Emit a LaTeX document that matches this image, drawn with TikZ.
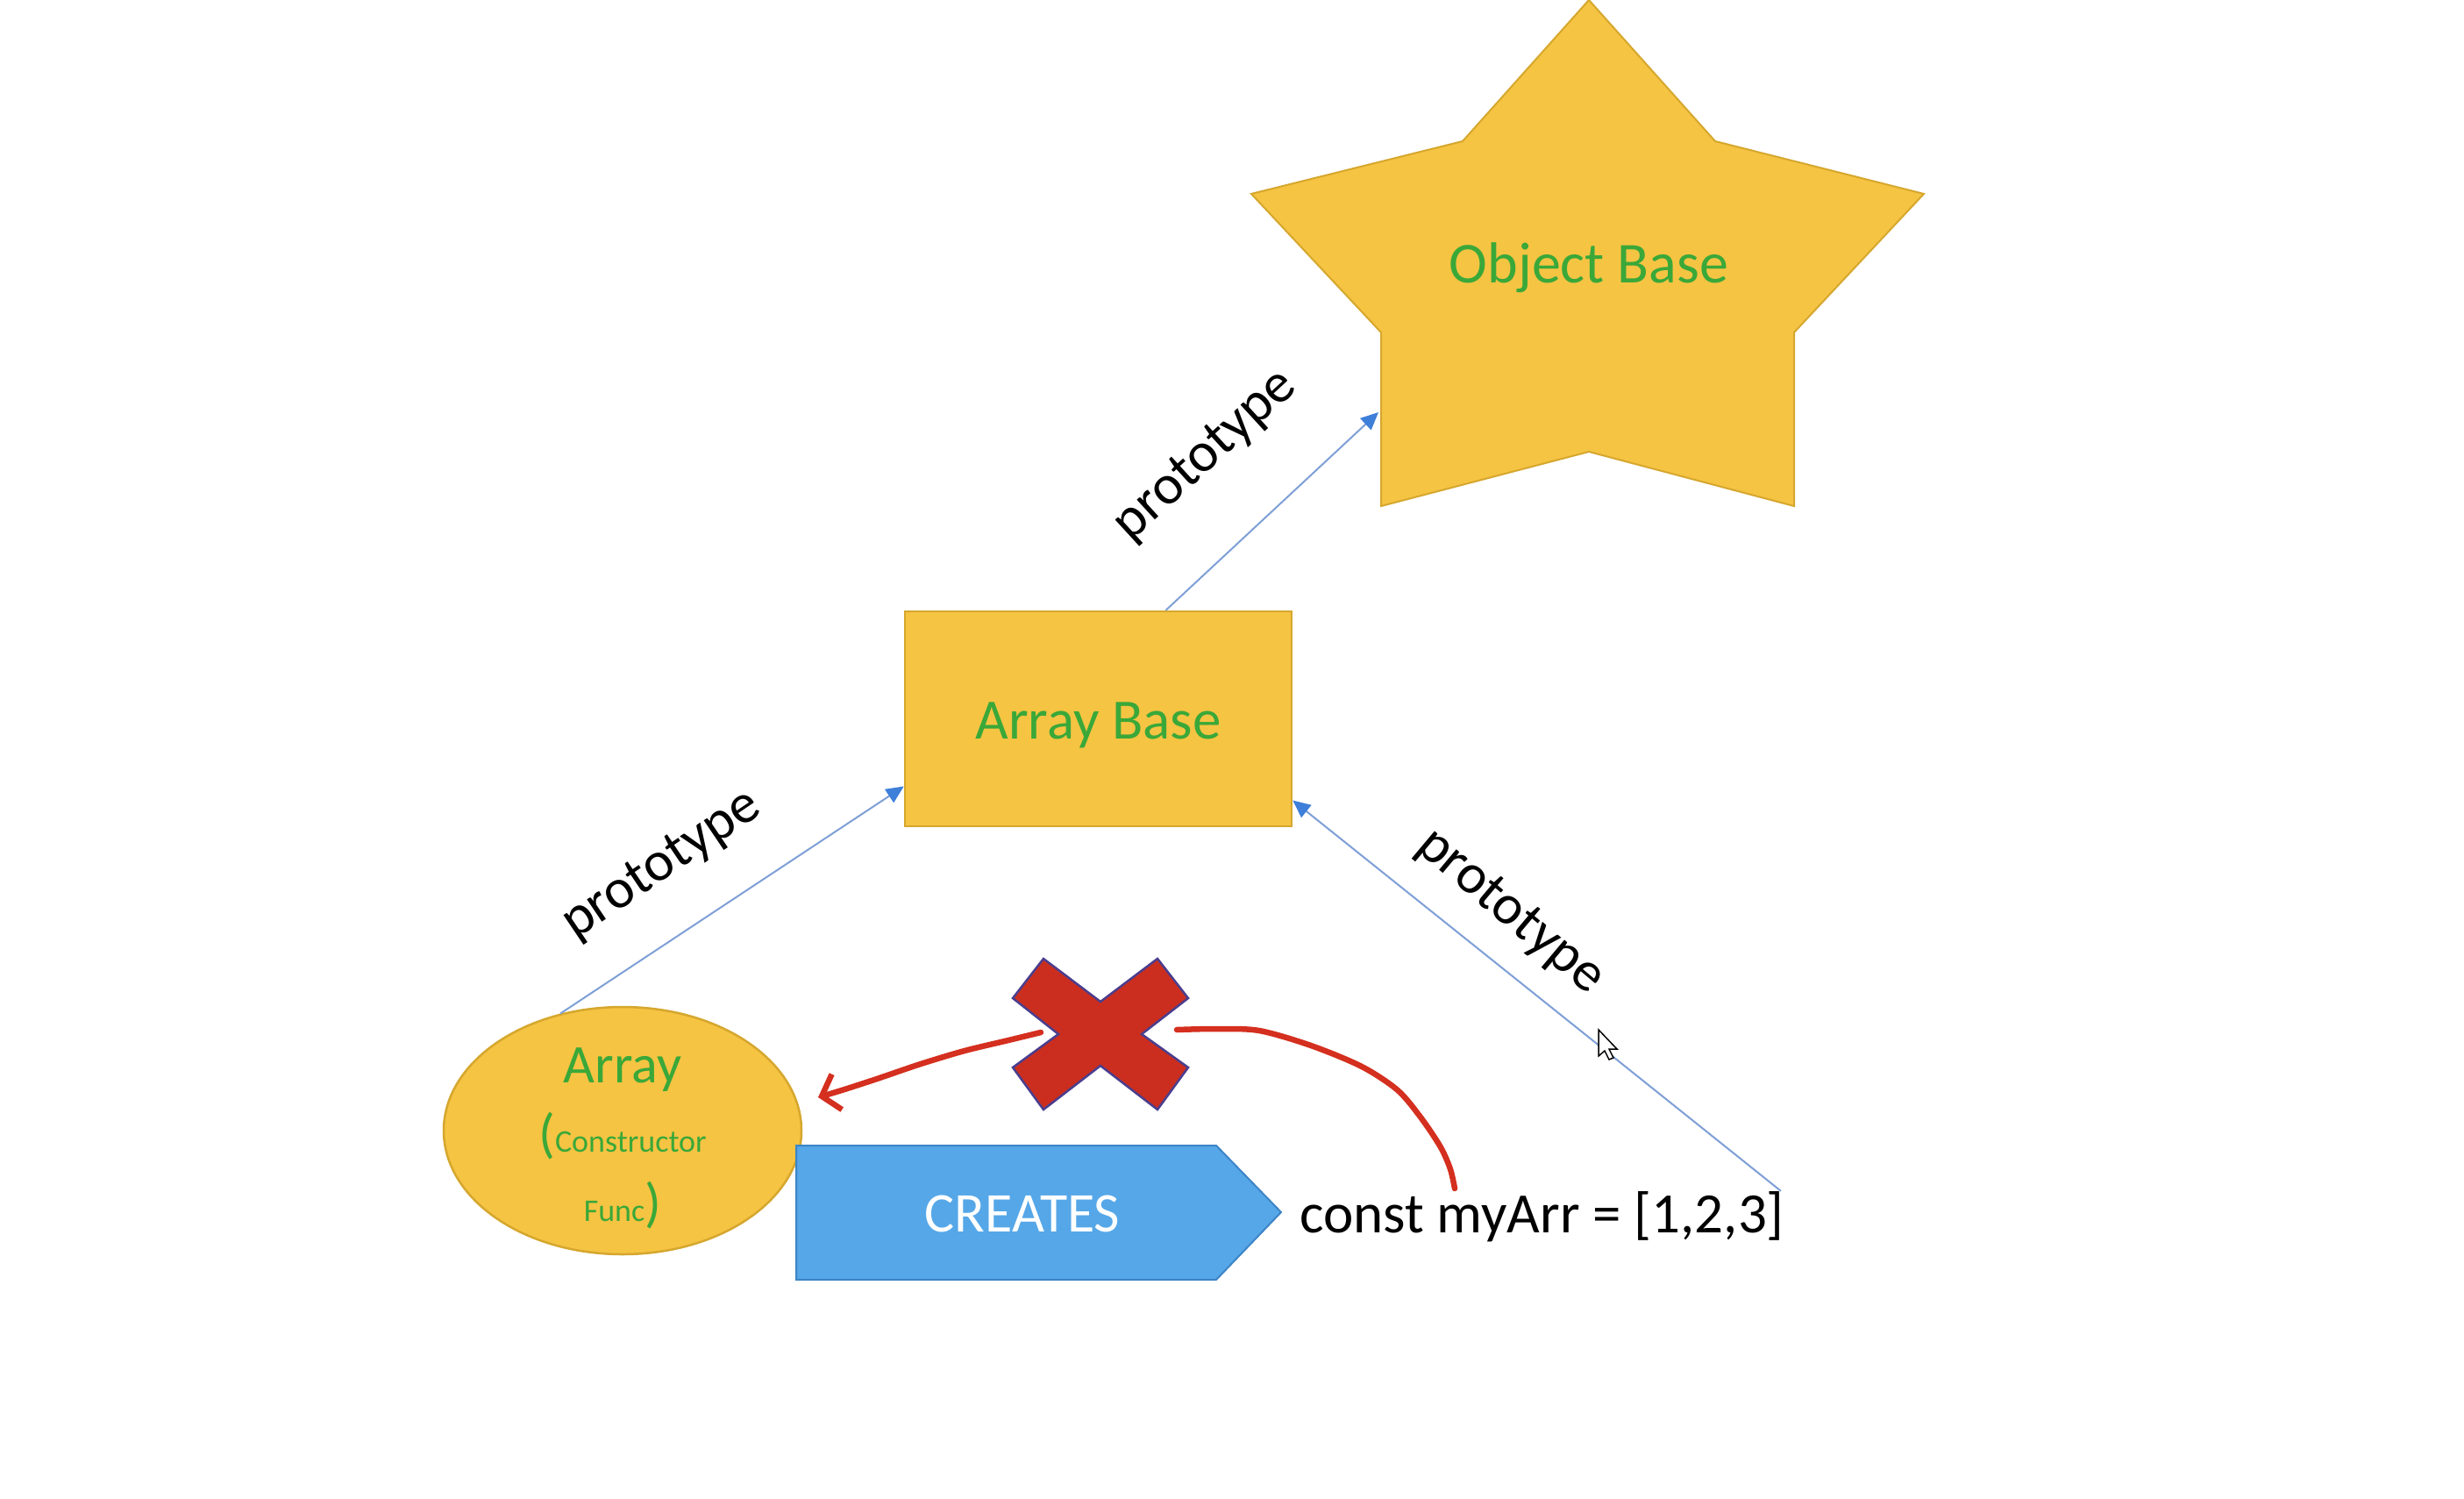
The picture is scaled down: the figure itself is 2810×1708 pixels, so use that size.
\documentclass[tikz,border=0pt]{standalone}
\usepackage{fontspec}
\setmainfont{Carlito}
\usetikzlibrary{shapes.geometric,arrows.meta}
\definecolor{gold}{HTML}{F5C443}
\definecolor{goldedge}{HTML}{D6A72E}
\definecolor{txtgreen}{HTML}{3AA839}
\definecolor{linkblue}{HTML}{7FA0D6}
\definecolor{tipblue}{HTML}{3D7FD9}
\definecolor{createblue}{HTML}{55A7E8}
\definecolor{createedge}{HTML}{3D84C6}
\definecolor{xred}{HTML}{CB2E1E}
\definecolor{xedge}{HTML}{4A3E8E}
\definecolor{penred}{HTML}{D42F1F}
\begin{document}
\begin{tikzpicture}[x=1pt,y=-1pt,
  goldshape/.style={fill=gold,draw=goldedge,line width=2.5pt},
  greentext/.style={text=txtgreen,inner sep=0pt},
  proto/.style={font=\fontsize{64}{77}\selectfont,inner sep=0pt},
  link/.style={draw=linkblue,line width=2pt,-{Triangle[length=20pt,width=18pt,color=tipblue]}},
  pen/.style={draw=penred,line width=6.5pt,line cap=round,line join=round},
]
\fill[white] (0,0) rectangle (2810,1708);
\useasboundingbox (0,0) rectangle (2810,1708);

% Object Base star
\draw[goldshape,line width=2pt] (1812,0) -- (1956,161) -- (2194,221) -- (2046,379) -- (2046,577) -- (1812,515) -- (1575,577) -- (1575,379) -- (1427,221) -- (1668,161) -- cycle;
\node[greentext,anchor=base,font=\fontsize{66}{79}\selectfont] (obj) at (1812,322) {Object Base};
\coordinate (objin) at (1572,470);

% Array Base rectangle
\node[goldshape,rectangle,minimum width=441pt,minimum height=245pt,inner sep=0pt,
      text=txtgreen,font=\fontsize{65}{78}\selectfont,text height=50pt,text depth=5pt] (ab) at (1252.5,819.5) {Array Base};

% Array ellipse
\node[goldshape,ellipse,minimum width=408pt,minimum height=282pt,inner sep=0pt] (arr) at (710,1289) {};
\node[greentext,align=center,font=\fontsize{62}{79}\selectfont] (arrtxt) at (710,1298)
  {Array\\({\fontsize{36}{79}\selectfont Constructor}\\{\fontsize{36}{79}\selectfont Func})};

% CREATES pentagon arrow
\draw[fill=createblue,draw=createedge,line width=2pt] (908,1306) -- (1387,1306) -- (1461,1382) -- (1387,1459) -- (908,1459) -- cycle;
\node[text=white,font=\fontsize{64}{77}\selectfont,anchor=base,inner sep=0pt] (creates) at (1166,1404) {CREATES};

% code text
\node[font=\fontsize{65}{78}\selectfont,anchor=base west,inner sep=0pt] (code) at (1482,1405) {const myArr = [1,2,3]};

% prototype connectors
\draw[link] (arr.118) -- ([yshift=-77pt]ab.west);
\draw[link] ([xshift=77pt]ab.north) -- (objin);
\draw[link] ([xshift=-4pt]code.north east) -- ([yshift=-93pt]ab.east);

\node[proto,rotate=34] (p1) at (755,987) {prototype};
\node[proto,rotate=42.5] (p2) at (1375,520) {prototype};
\node[proto,rotate=-40] (p3) at (1722,1040) {prototype};

% red X
\draw[fill=xred,draw=xedge,line width=2.5pt,line join=miter] (1190,1093) -- (1255,1142) -- (1320,1093) -- (1355,1138) -- (1302,1179) -- (1355,1217) -- (1320,1265) -- (1255,1215) -- (1190,1265) -- (1155,1217) -- (1207,1179) -- (1155,1138) -- cycle;

% red pen strokes
\draw[pen,-{Straight Barb[length=18pt,width=42pt]}] plot[smooth] coordinates {(1187,1177) (1150,1186) (1100,1198) (1050,1213) (1000,1230) (960,1243) (933,1251)};
\draw[pen] plot[smooth] coordinates {(1342,1174) (1387,1173) (1436,1175) (1495,1192) (1553,1216) (1594,1243) (1621,1275) (1643,1308) (1654,1333) (1659,1355)};

% mouse cursor
\draw[fill=white,draw=black,line width=1.5pt,line join=miter] (1823,1174) -- ++(0,30) -- ++(7,-6) -- ++(5,10) -- ++(5,-2) -- ++(-5,-10) -- ++(9,0) -- cycle;
\end{tikzpicture}
\end{document}
